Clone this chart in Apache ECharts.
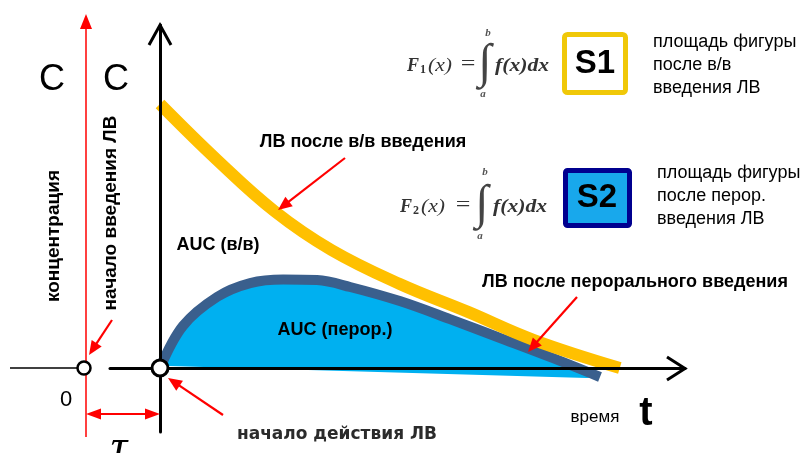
<!DOCTYPE html>
<html><head><meta charset="utf-8">
<script src="https://cdn.jsdelivr.net/npm/echarts@6/dist/echarts.min.js"></script>
<style>html,body{margin:0;padding:0;background:#fff}#c{width:803px;height:453px}</style>
</head><body><div id="c"></div>
<script>
// ---- data (time t, concentration C) ----
const ivTime   = [0, 1.3, 2.6, 3.9, 5.45, 7.0, 8.5, 10.45];
const ivConc   = [8.8, 6.93, 5.23, 3.93, 2.8, 1.87, 0.93, 0.0];
const oralTime = [0, 0.52, 1.3, 2.05, 2.8, 3.57, 4.32, 5.45, 6.59, 7.73, 8.86, 10.0];
const oralConc = [0, 1.4, 2.37, 2.83, 2.95, 2.93, 2.7, 2.23, 1.63, 1.0, 0.37, -0.3];
const fillBaseTime = [9.7, 0.2];
const fillBaseConc = [-0.33, 0.07];

const SANS = '"Liberation Sans", Arial, sans-serif';
const SERIF = '"Liberation Serif", "DejaVu Serif", serif';
const RED = '#ff0000';

function txt(x, y, text, font, extra) {
  extra = extra || {};
  const el = {
    type: 'text', x: x, y: y, z: 60,
    style: Object.assign({
      text: text, font: font, fill: extra.fill || '#000',
      textAlign: extra.align || 'center', align: extra.align || 'center',
      textVerticalAlign: 'middle', verticalAlign: 'middle'
    }, extra.style || {})
  };
  if (extra.rotation !== undefined) el.rotation = extra.rotation;
  if (extra.scaleX !== undefined) el.scaleX = extra.scaleX;
  return el;
}
function arrow(x1, y1, x2, y2, head, hw, w) {
  head = head || 14; hw = hw || 6; w = w || 2.2;
  const dx = x2 - x1, dy = y2 - y1, L = Math.hypot(dx, dy), ux = dx / L, uy = dy / L;
  const bx = x2 - ux * head, by = y2 - uy * head;
  return [
    { type: 'polyline', z: 50, shape: { points: [[x1, y1], [bx + ux * 2, by + uy * 2]] }, style: { stroke: RED, lineWidth: w, fill: null } },
    { type: 'polygon', z: 50, shape: { points: [[x2, y2], [bx - uy * hw, by + ux * hw], [bx + uy * hw, by - ux * hw]] }, style: { fill: RED } }
  ];
}

const chart = echarts.init(document.getElementById('c'), null, { renderer: 'canvas' });

const FB = 'bold 18px ' + SANS;
const FR = '18px ' + SANS;
const graphics = [].concat(
  [{ type: 'polyline', z: 40, shape: { points: [[10, 368], [78, 368]] }, style: { stroke: '#000', lineWidth: 1.5, fill: null } }],
  [{ type: 'polyline', z: 40, shape: { points: [[86, 27], [86, 437]] }, style: { stroke: RED, lineWidth: 1.5, fill: null } },
   { type: 'polygon', z: 40, shape: { points: [[86, 14], [80, 29], [92, 29]] }, style: { fill: RED } }],
  [{ type: 'polyline', z: 40, shape: { points: [[98, 414], [148, 414]] }, style: { stroke: RED, lineWidth: 2, fill: null } },
   { type: 'polygon', z: 40, shape: { points: [[86, 414], [101, 408.5], [101, 419.5]] }, style: { fill: RED } },
   { type: 'polygon', z: 40, shape: { points: [[160, 414], [145, 408.5], [145, 419.5]] }, style: { fill: RED } }],
  [{ type: 'polyline', z: 70, shape: { points: [[149, 45], [160, 25], [171, 45]] }, style: { stroke: '#000', lineWidth: 3, fill: null } },
   { type: 'polyline', z: 70, shape: { points: [[667, 357], [685, 368.5], [667, 380]] }, style: { stroke: '#000', lineWidth: 3, fill: null } }],
  [{ type: 'circle', z: 80, shape: { cx: 84, cy: 368, r: 6.5 }, style: { fill: '#fff', stroke: '#000', lineWidth: 2.5 } },
   { type: 'circle', z: 80, shape: { cx: 160, cy: 368, r: 8 }, style: { fill: '#fff', stroke: '#000', lineWidth: 3 } }],
  arrow(112, 320, 89, 355),
  arrow(345, 158, 278, 210),
  arrow(577, 297, 528, 352),
  arrow(223, 415, 168, 378),
  [txt(52, 80, 'C', '36px ' + SANS),
   txt(116, 80, 'C', '36px ' + SANS),
   txt(54, 236, 'концентрация', 'bold 19px ' + SANS, { rotation: Math.PI / 2 }),
   txt(111, 213, 'начало введения ЛВ', 'bold 19px ' + SANS, { rotation: Math.PI / 2 }),
   txt(66, 400, '0', '22px ' + SANS),
   txt(119, 449, 'τ', 'italic 46px ' + SERIF),
   txt(363, 142, 'ЛВ после в/в введения', FB),
   txt(218, 245, 'AUC (в/в)', FB),
   txt(335, 330, 'AUC (перор.)', FB),
   txt(635, 282, 'ЛВ после перорального введения', FB),
   txt(337, 435, 'начало действия ЛВ', 'bold 17px "DejaVu Sans", ' + SANS, { fill: '#2b2b2b' }),
   txt(595, 417, 'время', '17px ' + SANS),
   txt(646, 414, 't', 'bold 40px ' + SANS),
   txt(653, 42, 'площадь фигуры', FR, { align: 'left' }),
   txt(653, 65, 'после в/в', FR, { align: 'left' }),
   txt(653, 88, 'введения ЛВ', FR, { align: 'left' }),
   txt(657, 173, 'площадь фигуры', FR, { align: 'left' }),
   txt(657, 196, 'после перор.', FR, { align: 'left' }),
   txt(657, 219, 'введения ЛВ', FR, { align: 'left' })],
  [{ type: 'rect', z: 55, shape: { x: 564.5, y: 34.5, width: 61, height: 58, r: 3 }, style: { fill: '#fff', stroke: '#F0C808', lineWidth: 5 } },
   txt(595, 64, 'S1', 'bold 33px ' + SANS),
   { type: 'rect', z: 55, shape: { x: 565.5, y: 170.5, width: 64, height: 55, r: 2 }, style: { fill: '#18A8EC', stroke: '#00008F', lineWidth: 5 } },
   txt(597, 198, 'S2', 'bold 33px ' + SANS)],
  // formula 1
  [txt(407, 66, 'F', 'italic bold 18px ' + SERIF, { align: 'left', fill: '#333' }),
   txt(420, 70, '1', 'bold 12px ' + SERIF, { align: 'left', fill: '#333' }),
   txt(428, 66, '(x)', 'italic 18px ' + SERIF, { align: 'left', fill: '#333', scaleX: 1.2 }),
   txt(468, 65, '=', '20px ' + SERIF, { fill: '#333', scaleX: 1.3 }),
   txt(485, 64, '∫', 'italic 48px ' + SERIF, { fill: '#444' }),
   txt(488, 33, 'b', 'italic bold 11px ' + SERIF, { fill: '#555' }),
   txt(483, 94, 'a', 'italic bold 11px ' + SERIF, { fill: '#555' }),
   txt(495, 66, 'f(x)dx', 'italic bold 18px ' + SERIF, { align: 'left', fill: '#333', scaleX: 1.2 }),
  // formula 2
   txt(400, 207, 'F', 'italic bold 18px ' + SERIF, { align: 'left', fill: '#333' }),
   txt(413, 211, '2', 'bold 12px ' + SERIF, { align: 'left', fill: '#333' }),
   txt(421, 207, '(x)', 'italic 18px ' + SERIF, { align: 'left', fill: '#333', scaleX: 1.2 }),
   txt(463, 206, '=', '20px ' + SERIF, { fill: '#333', scaleX: 1.3 }),
   txt(482, 205, '∫', 'italic 48px ' + SERIF, { fill: '#444' }),
   txt(485, 172, 'b', 'italic bold 11px ' + SERIF, { fill: '#555' }),
   txt(480, 236, 'a', 'italic bold 11px ' + SERIF, { fill: '#555' }),
   txt(493, 207, 'f(x)dx', 'italic bold 18px ' + SERIF, { align: 'left', fill: '#333', scaleX: 1.2 })]
);

const option = {
  animation: false,
  backgroundColor: '#fff',
  grid: { left: 110, right: 118, top: 25, bottom: 21 },
  xAxis: {
    type: 'value', min: -50 / 44, max: 525 / 44, z: 10,
    axisLine: { show: true, onZero: true, lineStyle: { color: '#000', width: 3 } },
    axisTick: { show: false }, axisLabel: { show: false }, splitLine: { show: false }
  },
  yAxis: {
    type: 'value', min: -64 / 30, max: 343 / 30, z: 10,
    axisLine: { show: true, onZero: true, lineStyle: { color: '#000', width: 3 } },
    axisTick: { show: false }, axisLabel: { show: false }, splitLine: { show: false }
  },
  series: [
    {
      type: 'custom', z: 1, silent: true, clip: false,
      data: [[0, 0]],
      renderItem: function (params, api) {
        const pts = oralTime.map((t, i) => api.coord([t, oralConc[i]]));
        fillBaseTime.forEach((t, i) => pts.push(api.coord([t, fillBaseConc[i]])));
        return { type: 'polygon', shape: { points: pts }, style: { fill: '#00B0F0' } };
      }
    },
    {
      type: 'line', name: 'oral', z: 3, smooth: 0.35, symbol: 'none', clip: false,
      data: oralTime.map((t, i) => [t, oralConc[i]]),
      lineStyle: { color: '#3A5F8D', width: 10, cap: 'butt' }
    },
    {
      type: 'line', name: 'iv', z: 4, smooth: 0.4, symbol: 'none', clip: false,
      data: ivTime.map((t, i) => [t, ivConc[i]]),
      lineStyle: { color: '#FFC000', width: 12, cap: 'butt' }
    }
  ],
  graphic: { elements: graphics }
};
chart.setOption(option);
</script>
</body></html>
